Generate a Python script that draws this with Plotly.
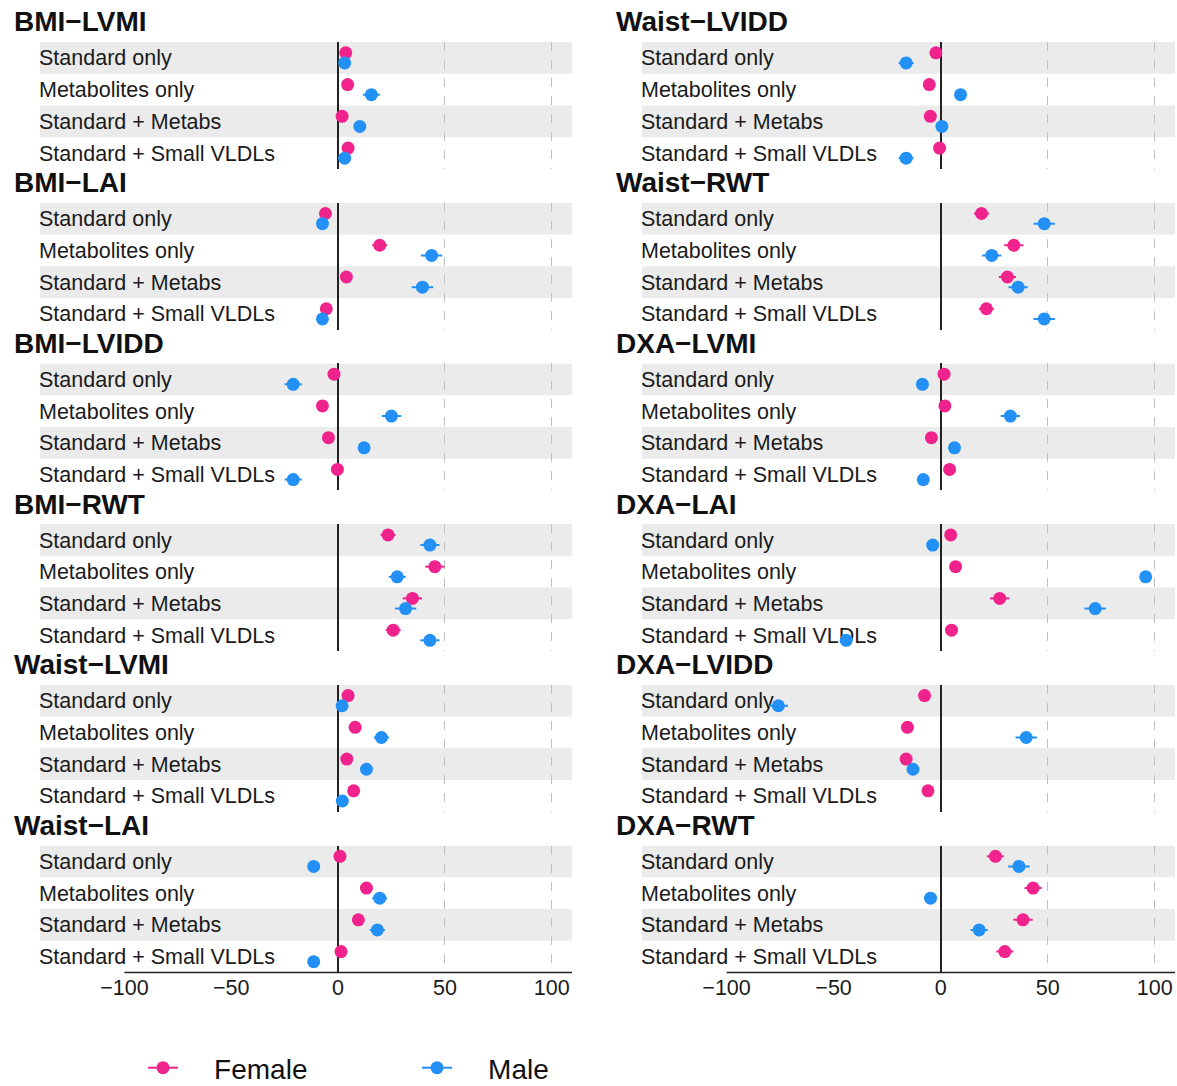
import plotly.graph_objects as go

W, H = 1177, 1086

PANELS = ["BMI\u2212LVMI", "BMI\u2212LAI", "BMI\u2212LVIDD", "BMI\u2212RWT", "Waist\u2212LVMI", "Waist\u2212LAI",
          "Waist\u2212LVIDD", "Waist\u2212RWT", "DXA\u2212LVMI", "DXA\u2212LAI", "DXA\u2212LVIDD", "DXA\u2212RWT"]
ROWS = ["Standard only", "Metabolites only", "Standard + Metabs", "Standard + Small VLDLs"]
TICKS = [-100, -50, 0, 50, 100]
TICK_TEXT = ["\u2212100", "\u221250", "0", "50", "100"]
SERIES = ["Female", "Male"]

FEMALE = [
    [3.6, 4.5, 1.9, 4.7],
    [-5.9, 19.5, 3.9, -5.5],
    [-1.9, -7.3, -4.5, -0.3],
    [23.4, 45.3, 34.8, 25.8],
    [4.7, 8.0, 4.1, 7.3],
    [0.9, 13.3, 9.5, 1.4],
    [-2.2, -5.3, -4.8, -0.5],
    [19.1, 34.2, 31.2, 21.4],
    [1.6, 2.0, -4.3, 4.2],
    [4.7, 7.0, 27.6, 5.1],
    [-7.5, -15.5, -16.1, -5.9],
    [25.6, 43.2, 38.5, 30.0],
]
MALE = [
    [3.1, 15.6, 10.2, 3.1],
    [-7.3, 43.8, 39.5, -7.3],
    [-21.0, 25.0, 12.2, -21.0],
    [43.0, 27.7, 31.6, 43.0],
    [1.9, 20.3, 13.3, 2.0],
    [-11.4, 19.5, 18.4, -11.4],
    [-16.1, 9.3, 0.6, -16.1],
    [48.4, 23.9, 36.2, 48.4],
    [-8.5, 32.6, 6.5, -8.1],
    [-3.7, 95.8, 72.2, -44.1],
    [-75.8, 40.0, -12.9, None],
    [36.6, -4.7, 18.0, None],
]
FEMALE_ERR = [
    [1.5, 1.5, 1.5, 1.5],
    [1.5, 3.5, 2.0, 1.5],
    [1.5, 1.5, 1.5, 1.5],
    [3.5, 4.5, 4.5, 3.5],
    [1.5, 2.0, 1.5, 1.5],
    [1.5, 2.5, 2.0, 1.5],
    [1.5, 1.5, 1.5, 1.5],
    [3.5, 4.5, 4.0, 3.5],
    [1.5, 1.5, 1.5, 1.5],
    [1.5, 1.5, 4.5, 1.5],
    [2.0, 2.5, 2.5, 2.0],
    [4.0, 4.0, 4.5, 4.0],
]
MALE_ERR = [
    [1.5, 4.0, 2.5, 1.5],
    [1.5, 5.0, 5.0, 1.5],
    [4.0, 4.5, 2.5, 4.0],
    [4.5, 4.0, 5.0, 4.5],
    [1.5, 3.5, 2.5, 1.5],
    [1.5, 3.5, 3.5, 1.5],
    [3.5, 2.0, 2.0, 3.5],
    [5.0, 4.5, 4.5, 5.0],
    [2.0, 4.5, 2.0, 2.0],
    [2.0, 2.0, 5.0, 2.0],
    [4.5, 5.0, 2.5, None],
    [5.0, 2.0, 4.0, None],
]

F_COLOR = "#F0228C"
M_COLOR = "#2290F5"
XRANGE = [-139.5, 109.5]
DODGE = 0.16
FONT = "Liberation Sans, Arial, sans-serif"
TXT = "#1a1a1a"

fig = go.Figure()

col_x = [(40, 572), (642, 1175)]
title_x = [12, 614]
panel_top0, pitch, ph = 42, 160.7, 127

layout_axes = {}
annotations = []
shapes = []
for i, name in enumerate(PANELS):
    c, r = divmod(i, 6)
    top = panel_top0 + pitch * r
    xd = [col_x[c][0] / W, col_x[c][1] / W]
    yd = [1 - (top + ph) / H, 1 - top / H]
    n = i + 1
    xa = "xaxis" if n == 1 else f"xaxis{n}"
    ya = "yaxis" if n == 1 else f"yaxis{n}"
    xref = "x" if n == 1 else f"x{n}"
    yref = "y" if n == 1 else f"y{n}"
    bottom = (r == 5)
    layout_axes[xa] = dict(
        domain=xd, anchor=yref, range=XRANGE, tickvals=TICKS,
        showticklabels=False, ticks="", showgrid=True, gridcolor="#C0C0C0",
        griddash="dash", gridwidth=1, zeroline=True, zerolinecolor="#222222",
        zerolinewidth=2, showline=False, layer="below traces", fixedrange=True,
    )
    layout_axes[ya] = dict(
        domain=yd, anchor=xref, range=[3.5, -0.5], tickmode="array",
        tickvals=list(range(len(ROWS))), ticktext=ROWS, ticklabelposition="inside",
        ticklabelstandoff=-4,
        ticks="", showgrid=False, zeroline=False, showline=False,
        layer="below traces", tickfont=dict(family=FONT, size=21.5, color=TXT),
        fixedrange=True,
    )
    for k in (0, 2):
        shapes.append(dict(type="rect", xref=f"{xref} domain", yref=yref, x0=0, x1=1,
                           y0=k - 0.5, y1=k + 0.5, fillcolor="#EBEBEB",
                           line=dict(width=0), layer="below"))
    if bottom:
        shapes.append(dict(type="line", xref=xref, yref=f"{yref} domain",
                           x0=TICKS[0], x1=XRANGE[1], y0=0, y1=0,
                           line=dict(color="#222222", width=1.5)))
        # separate axis that carries the tick labels of the column
        m = 13 + c
        layout_axes[f"xaxis{m}"] = dict(
            domain=xd, anchor=f"y{m}", range=XRANGE, tickvals=TICKS, ticktext=TICK_TEXT,
            showticklabels=True, ticks="", showgrid=False, zeroline=False, showline=False,
            tickfont=dict(family=FONT, size=21.5, color=TXT), fixedrange=True,
        )
        layout_axes[f"yaxis{m}"] = dict(domain=yd, anchor=f"x{m}", range=[0, 1],
                                        visible=False, fixedrange=True)
        fig.add_trace(go.Scatter(x=[None], y=[None], xaxis=f"x{m}", yaxis=f"y{m}",
                                 showlegend=False, hoverinfo="skip"))
    annotations.append(dict(text=f"<b>{name}</b>", xref="paper", yref="paper",
                            x=title_x[c] / W, y=1 - (top - 20) / H,
                            xanchor="left", yanchor="middle", showarrow=False,
                            font=dict(family=FONT, size=28, color="#111111")))

    ys = list(range(len(ROWS)))
    fig.add_trace(go.Scatter(
        x=FEMALE[i], y=[v - DODGE for v in ys], mode="markers", xaxis=xref, yaxis=yref,
        marker=dict(color=F_COLOR, size=13),
        error_x=dict(type="data", array=FEMALE_ERR[i], color=F_COLOR, thickness=2, width=0),
        showlegend=False, name=SERIES[0], hoverinfo="x"))
    fig.add_trace(go.Scatter(
        x=MALE[i], y=[v + DODGE for v in ys], mode="markers", xaxis=xref, yaxis=yref,
        marker=dict(color=M_COLOR, size=13),
        error_x=dict(type="data", array=MALE_ERR[i], color=M_COLOR, thickness=2, width=0),
        showlegend=False, name=SERIES[1], hoverinfo="x"))

PAD = "\u00a0" * 4
fig.add_trace(go.Scatter(x=[None], y=[None], mode="lines+markers", name=PAD + SERIES[0],
                         line=dict(color=F_COLOR, width=2), marker=dict(color=F_COLOR, size=13)))
fig.add_trace(go.Scatter(x=[None], y=[None], mode="lines+markers", name=PAD + SERIES[1],
                         line=dict(color=M_COLOR, width=2), marker=dict(color=M_COLOR, size=13)))

fig.update_layout(
    width=W, height=H, margin=dict(l=0, r=0, t=0, b=0, autoexpand=False),
    paper_bgcolor="white", plot_bgcolor="rgba(0,0,0,0)",
    font=dict(family=FONT, color="#111111"),
    shapes=shapes, annotations=annotations,
    legend=dict(orientation="h", x=143 / W, y=1 - 1068 / H, xanchor="left", yanchor="middle",
                font=dict(family=FONT, size=28, color="#111111"),
                entrywidth=229, entrywidthmode="pixels", bgcolor="rgba(0,0,0,0)"),
    **layout_axes,
)

fig.write_html("out.html", config={"displayModeBar": False},
               post_script="document.body.style.margin='0px';")
